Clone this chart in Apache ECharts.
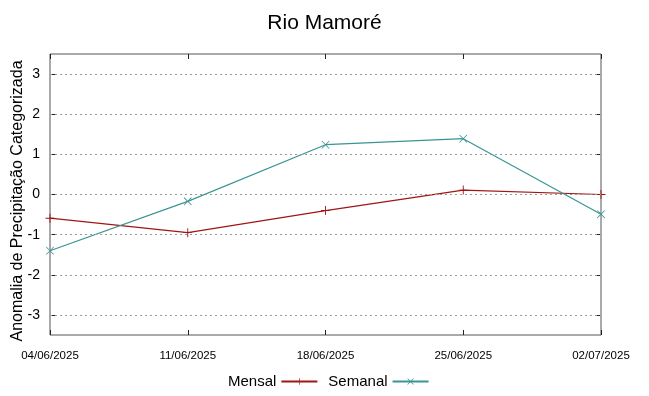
<!DOCTYPE html>
<html>
<head>
<meta charset="utf-8">
<script src="https://cdn.jsdelivr.net/npm/echarts@6/dist/echarts.min.js"></script>
<style>
  html, body { margin: 0; padding: 0; background: #fff; }
  #chart { width: 649px; height: 396px; }
</style>
</head>
<body>
<div id="chart"></div>
<script>
// datas do eixo x
const datas = ['04/06/2025', '11/06/2025', '18/06/2025', '25/06/2025', '02/07/2025']
// anomalias
const mensal = [-0.59, -0.95, -0.40, 0.11, 0.0]
const semanal = [-1.40, -0.17, 1.24, 1.39, -0.49]
const ticksY = [-3, -2, -1, 0, 1, 2, 3]

const plusPath = 'path://M0,4.5h10v1h-10z M4.5,0h1v10h-1z'
const crossPath = 'path://M0.7,0L10,9.3L9.3,10L0,0.7z M9.3,0L10,0.7L0.7,10L0,9.3z'

const fonte = "'Liberation Sans', Arial, sans-serif"

var myChart = echarts.init(document.getElementById('chart'))

// ticks internos, mesmo estilo nos 4 lados
const tick = { show: true, inside: true, length: 5, lineStyle: { color: '#222' } }

var option = {
    animation: false,
    title: {
        text: 'Rio Mamoré',
        left: 'center',
        top: 8,
        textStyle: { fontFamily: fonte, fontSize: 21, fontWeight: 'normal', color: '#000' }
    },
    // titulo do eixo y (texto girado)
    graphic: [{
        type: 'text',
        x: 18,
        y: 201,
        rotation: Math.PI / 2,
        style: {
            text: 'Anomalia de Precipitação Categorizada',
            font: "16px 'Liberation Sans', Arial, sans-serif",
            fill: '#000',
            align: 'center',
            verticalAlign: 'middle'
        }
    }],
    legend: {
        bottom: 2,
        left: 223,
        align: 'right',
        itemWidth: 36,
        itemHeight: 8,
        itemGap: 10,
        textStyle: { fontFamily: fonte, fontSize: 15, color: '#000' },
        data: ['Mensal', 'Semanal']
    },
    grid: {
        left: 50,
        right: 48,
        top: 54,
        bottom: 61,
        outerBoundsMode: 'none',
        containLabel: false,
        show: true,
        borderColor: '#555',
        borderWidth: 1
    },
    xAxis: [{
        type: 'category',
        data: datas,
        boundaryGap: false,
        axisLine: { show: false, onZero: false },
        axisTick: tick,
        axisLabel: { margin: 15, fontFamily: fonte, fontSize: 11.5, color: '#000', interval: 0 },
        splitLine: { show: false }
    }, {
        type: 'category',
        position: 'top',
        data: datas,
        boundaryGap: false,
        axisLine: { show: false, onZero: false },
        axisTick: tick,
        axisLabel: { show: false },
        splitLine: { show: false }
    }],
    yAxis: [{
        type: 'value',
        min: -3.5,
        max: 3.5,
        axisLine: { show: false, onZero: false },
        axisTick: Object.assign({ customValues: ticksY }, tick),
        axisLabel: {
            margin: 10, fontFamily: fonte, fontSize: 14, color: '#000',
            customValues: ticksY
        },
        splitLine: { show: false }
    }, {
        type: 'value',
        position: 'right',
        min: -3.5,
        max: 3.5,
        axisLine: { show: false, onZero: false },
        axisLabel: { show: false },
        axisTick: Object.assign({ customValues: ticksY }, tick),
        splitLine: { show: false }
    }],
    series: [
        {
            // linhas de grade pontilhadas
            name: 'grade',
            type: 'line',
            data: [],
            markLine: {
                silent: true,
                symbol: 'none',
                label: { show: false },
                lineStyle: { color: '#999', type: [2, 3], width: 1 },
                data: ticksY.map(v => ({ yAxis: v }))
            }
        },
        {
            name: 'Mensal',
            type: 'line',
            data: mensal,
            symbol: plusPath,
            symbolSize: 9,
            lineStyle: { color: '#a01515', width: 1.2 },
            itemStyle: { color: '#a01515' }
        },
        {
            name: 'Semanal',
            type: 'line',
            data: semanal,
            symbol: crossPath,
            symbolSize: 8,
            lineStyle: { color: '#3a9494', width: 1.2 },
            itemStyle: { color: '#3a9494' }
        }
    ]
}

myChart.setOption(option)
</script>
</body>
</html>
